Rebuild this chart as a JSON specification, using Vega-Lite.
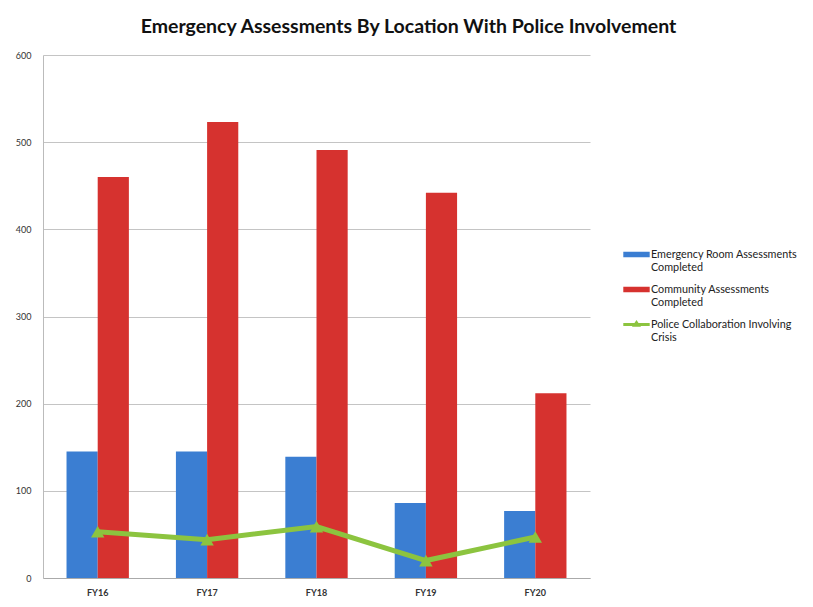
{
  "$schema": "https://vega.github.io/schema/vega-lite/v6.json",
  "autosize": "none",
  "width": 547,
  "height": 523,
  "padding": {"left": 43, "top": 55, "right": 223, "bottom": 29},
  "background": "white",
  "config": {"font": "Lato", "view": {"stroke": null}},
  "title": {
    "text": "Emergency Assessments By Location With Police Involvement",
    "fontSize": 19.5, "fontWeight": "bold", "color": "#111", "anchor": "middle",
    "dx": 92, "offset": 14, "font": "Lato"
  },
  "data": {"values": [
    {"year": "FY16", "series": "Emergency Room Assessments Completed", "value": 145},
    {"year": "FY17", "series": "Emergency Room Assessments Completed", "value": 145},
    {"year": "FY18", "series": "Emergency Room Assessments Completed", "value": 139},
    {"year": "FY19", "series": "Emergency Room Assessments Completed", "value": 86},
    {"year": "FY20", "series": "Emergency Room Assessments Completed", "value": 77},
    {"year": "FY16", "series": "Community Assessments Completed", "value": 460},
    {"year": "FY17", "series": "Community Assessments Completed", "value": 523},
    {"year": "FY18", "series": "Community Assessments Completed", "value": 491},
    {"year": "FY19", "series": "Community Assessments Completed", "value": 442},
    {"year": "FY20", "series": "Community Assessments Completed", "value": 212},
    {"year": "FY16", "series": "Police Collaboration Involving Crisis", "value": 53},
    {"year": "FY17", "series": "Police Collaboration Involving Crisis", "value": 44},
    {"year": "FY18", "series": "Police Collaboration Involving Crisis", "value": 59},
    {"year": "FY19", "series": "Police Collaboration Involving Crisis", "value": 20},
    {"year": "FY20", "series": "Police Collaboration Involving Crisis", "value": 47}
  ]},
  "encoding": {
    "x": {"field": "year", "type": "nominal", "title": null,
      "scale": {"paddingInner": 0.43, "paddingOuter": 0.215},
      "axis": {"labelAngle": 0, "labelFontSize": 9, "labelFontWeight": "bold", "labelColor": "#333", "domainColor": "#aaa", "ticks": false, "labelPadding": 10}},
    "y": {"field": "value", "type": "quantitative", "title": null,
      "scale": {"domain": [0, 600]},
      "axis": {"values": [0, 100, 200, 300, 400, 500, 600], "labelFontSize": 9, "labelColor": "#333", "domain": true, "domainColor": "#bbb", "gridColor": "#c4c4c4", "ticks": false, "labelPadding": 12}},
    "color": {"field": "series", "type": "nominal", "title": null,
      "scale": {"domain": ["Emergency Room Assessments Completed", "Community Assessments Completed", "Police Collaboration Involving Crisis"],
        "range": ["#3b7ed2", "#d6322f", "#8cc43f"]},
      "legend": {"orient": "none", "legendX": 580, "legendY": 186,
        "labelFontSize": 10.8, "labelColor": "#222", "labelLimit": 200,
        "labelExpr": "datum.label == 'Emergency Room Assessments Completed' ? ['Emergency Room Assessments', 'Completed'] : datum.label == 'Community Assessments Completed' ? ['Community Assessments', 'Completed'] : ['Police Collaboration Involving', 'Crisis']",
        "symbolSize": 620, "rowPadding": 3, "labelOffset": 1,
        "encode": {
          "labels": {"update": {"lineHeight": {"value": 13}}},
          "symbols": {"update": {"shape": {"signal": "datum.value == 'Police Collaboration Involving Crisis' ? 'M-1,-0.06H1V0.06H-1Z M-0.25,0.12L0,-0.25L0.25,0.12Z' : 'M-1,-0.16H1V0.16H-1Z'"}}}}}
    }
  },
  "layer": [
    {
      "transform": [{"filter": "datum.series != 'Police Collaboration Involving Crisis'"}],
      "mark": {"type": "bar"},
      "encoding": {"xOffset": {"field": "series", "type": "nominal", "sort": ["Emergency Room Assessments Completed", "Community Assessments Completed"]}}
    },
    {
      "transform": [{"filter": "datum.series == 'Police Collaboration Involving Crisis'"}],
      "mark": {"type": "line", "strokeWidth": 5, "point": {"shape": "triangle-up", "size": 180, "filled": true}}
    }
  ]
}
